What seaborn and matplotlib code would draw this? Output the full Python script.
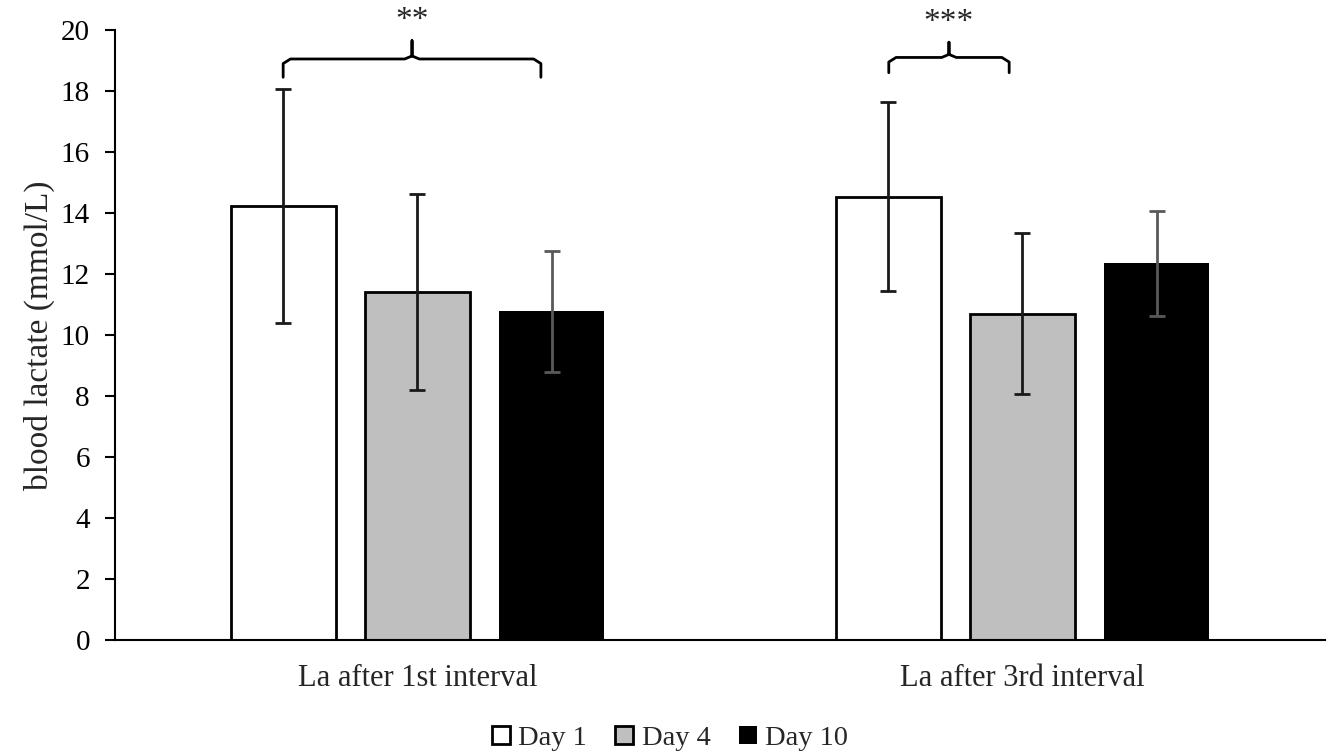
import numpy as np
import pandas as pd
import matplotlib
matplotlib.use('Agg')
import matplotlib.pyplot as plt
from matplotlib.patches import Patch
import seaborn as sns

categories = ['La after 1st interval', 'La after 3rd interval']
days = ['Day 1', 'Day 4', 'Day 10']
mean_day1 = [14.23, 14.53]
mean_day4 = [11.41, 10.69]
mean_day10 = [10.78, 12.35]
sd_day1 = [3.84, 3.10]
sd_day4 = [3.21, 2.64]
sd_day10 = [1.98, 1.73]
stars = ['**', '***']

fills = ['#FFFFFF', '#BFBFBF', '#000000']
err_colors = ['#1a1a1a', '#1a1a1a', '#595959']

df = pd.DataFrame({
    'cat': categories * 3,
    'day': [d for d in days for _ in categories],
    'val': mean_day1 + mean_day4 + mean_day10,
})
sds = [sd_day1, sd_day4, sd_day10]

sns.set_style('white')
plt.rcParams['font.family'] = ['Liberation Serif', 'DejaVu Serif']

fig = plt.figure(figsize=(13.4, 7.54), dpi=100)
ax = fig.add_axes([0.0858, 0.1512, 0.903, 0.809])

sns.barplot(data=df, x='cat', y='val', hue='day', order=categories, hue_order=days,
            palette=fills, width=0.665, gap=0.215, errorbar=None, legend=False,
            edgecolor='black', linewidth=2, ax=ax)

bar_groups = list(ax.containers)
for i, cont in enumerate(bar_groups):
    for j, bar in enumerate(cont):
        if i == 2:
            bar.set_linewidth(0)
        xc = bar.get_x() + bar.get_width() / 2
        ax.errorbar(xc, bar.get_height(), yerr=sds[i][j], color=err_colors[i],
                    capsize=6, capthick=2, elinewidth=2, zorder=5)

ax.set_ylim(0, 20)
ax.set_xlim(-0.5, 1.5)
ax.set_yticks(np.arange(0, 21, 2))
ax.set_xlabel('')
ax.set_ylabel('blood lactate (mmol/L)', fontsize=24, labelpad=4)
ax.tick_params(axis='y', labelsize=21, direction='out', length=7, width=1.5, left=True,
               colors='black', pad=11)
ax.tick_params(axis='x', labelsize=22, length=0, pad=17)
for s in ['top', 'right']:
    ax.spines[s].set_visible(False)
for s in ['left', 'bottom']:
    ax.spines[s].set_color('black')
    ax.spines[s].set_linewidth(1.5)


def brace(ax, x0, x1, y, h, text):
    xm = (x0 + x1) / 2
    r = 0.012
    xs = [x0, x0, x0 + r, xm - r, xm, xm, xm, xm + r, x1 - r, x1, x1]
    ys = [y - h, y - 0.15, y, y, y + 0.1, y + h, y + 0.1, y, y, y - 0.15, y - h]
    ax.plot(xs, ys, color='black', lw=2, clip_on=False, solid_joinstyle='round')
    ax.text(xm, y + h + 0.15, text, ha='center', va='bottom', fontsize=24, clip_on=False)


brace(ax, -0.222, 0.204, 19.05, 0.6, stars[0])
brace(ax, 0.779, 0.978, 19.1, 0.5, stars[1])

handles = [Patch(facecolor=f, edgecolor='black', linewidth=2 if k < 2 else 0) for k, f in enumerate(fills)]
fig.legend(handles, days, loc='center', bbox_to_anchor=(0.5, 0.021), ncol=3, frameon=False,
           fontsize=20.5, handlelength=0.62, handleheight=0.62, handletextpad=0.3, columnspacing=1.0)

fig.savefig('out.png', dpi=100)
